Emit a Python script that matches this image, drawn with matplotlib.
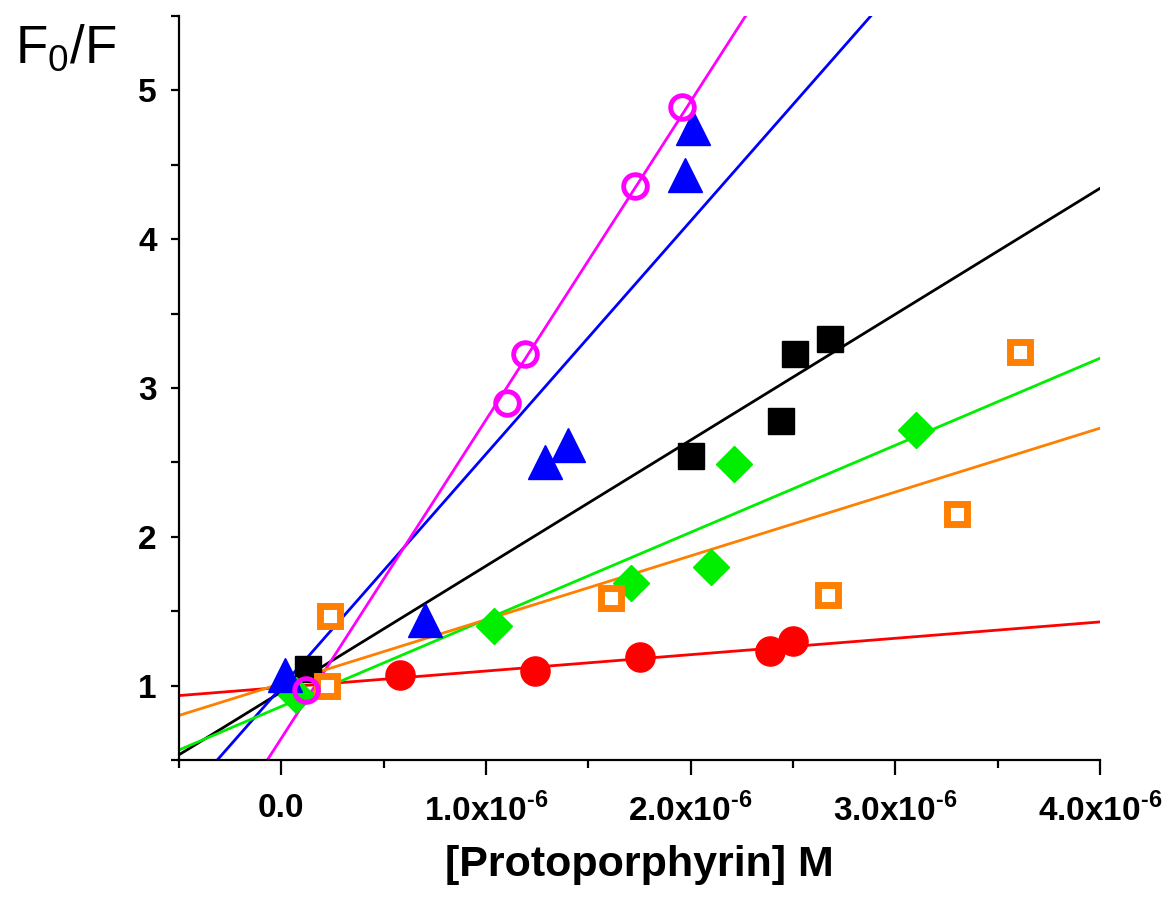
import numpy as np
import matplotlib
matplotlib.use("Agg")
import matplotlib.pyplot as plt
from matplotlib.ticker import FixedLocator

plt.rcParams['font.family'] = ['Liberation Sans', 'DejaVu Sans']
plt.rcParams['mathtext.fontset'] = 'custom'
plt.rcParams['mathtext.rm'] = 'Liberation Sans'
plt.rcParams['mathtext.bf'] = 'Liberation Sans:bold'

# x values in units of 1e-6 M
red_x = [0.58, 1.24, 1.75, 2.39, 2.50]
red_y = [1.07, 1.10, 1.19, 1.23, 1.30]

black_x = [0.13, 2.00, 2.44, 2.51, 2.68]
black_y = [1.11, 2.54, 2.78, 3.23, 3.33]

blue_x = [0.02, 0.70, 1.29, 1.40, 1.97, 2.01]
blue_y = [1.07, 1.44, 2.50, 2.62, 4.43, 4.75]

magenta_x = [0.12, 1.105, 1.19, 1.73, 1.96]
magenta_y = [0.97, 2.90, 3.23, 4.36, 4.89]

green_x = [0.07, 1.04, 1.71, 2.10, 2.21, 3.10]
green_y = [0.94, 1.40, 1.69, 1.80, 2.49, 2.72]

orange_x = [0.225, 0.24, 1.61, 2.67, 3.30, 3.61]
orange_y = [1.00, 1.465, 1.59, 1.61, 2.15, 3.24]

# linear fits: intercept, slope (per 1e-6 M)
red_fit = [0.988, 0.110]
black_fit = [0.958, 0.846]
blue_fit = [0.990, 1.566]
magenta_fit = [0.646, 2.140]
green_fit = [0.860, 0.585]
orange_fit = [1.014, 0.429]

xticks = [0.0, 1.0, 2.0, 3.0, 4.0]
xtick_labels = ['0.0', '1.0x10$^{\\mathbf{\u20106}}$', '2.0x10$^{\\mathbf{\u20106}}$',
                '3.0x10$^{\\mathbf{\u20106}}$', '4.0x10$^{\\mathbf{\u20106}}$']
yticks = [1, 2, 3, 4, 5]

scale = 1e-6

fig = plt.figure(figsize=(11.67, 8.99), dpi=100)
ax = fig.add_axes([179/1167, 139/899, 921/1167, 744/899])

xline = np.array([-0.5, 4.0])

def fit_line(fit, color):
    ax.plot(xline * scale, fit[0] + fit[1] * xline, color=color, lw=2, zorder=2)

fit_line(red_fit, '#ff0000')
fit_line(black_fit, '#000000')
fit_line(blue_fit, '#0000ff')
fit_line(magenta_fit, '#ff00ff')
fit_line(green_fit, '#00ee00')
fit_line(orange_fit, '#ff8000')

sc = np.array
ax.plot(sc(red_x) * scale, red_y, 'o', color='#ff0000', ms=21, mec='#ff0000', zorder=3)
ax.plot(sc(black_x) * scale, black_y, 's', color='#000000', ms=19, zorder=3)
ax.plot(sc(green_x) * scale, green_y, 'D', color='#00ee00', ms=18, zorder=3)
ax.plot(sc(orange_x) * scale, orange_y, 's', mfc='white', mec='#ff8000', mew=5, ms=14, zorder=3)
ax.plot(sc(blue_x) * scale, blue_y, '^', color='#0000ff', ms=24, zorder=3)
ax.plot(sc(magenta_x) * scale, magenta_y, 'o', mfc='none', mec='#ff00ff', mew=3.5, ms=17, zorder=4)

ax.set_xlim(-0.5e-6, 4.0e-6)
ax.set_ylim(0.5, 5.5)

for s in ['top', 'right']:
    ax.spines[s].set_visible(False)
for s in ['left', 'bottom']:
    ax.spines[s].set_linewidth(1.6)

ax.xaxis.set_major_locator(FixedLocator([v * scale for v in xticks]))
ax.set_xticklabels(xtick_labels)
ax.xaxis.set_minor_locator(FixedLocator([v * scale for v in [-0.5, 0.5, 1.5, 2.5, 3.5]]))
ax.yaxis.set_major_locator(FixedLocator(yticks))
ax.yaxis.set_minor_locator(FixedLocator([0.5, 1.5, 2.5, 3.5, 4.5, 5.5]))

ax.tick_params(axis='x', which='major', direction='out', length=11, width=1.6, pad=13)
ax.tick_params(axis='x', which='minor', direction='out', length=6, width=1.6)
ax.tick_params(axis='y', which='both', direction='out', length=6, width=1.6, pad=10)
for lab in ax.get_xticklabels() + ax.get_yticklabels():
    lab.set_fontsize(24)
    lab.set_fontweight('bold')

ax.set_xlabel('[Protoporphyrin] M', fontsize=31, fontweight='bold', labelpad=12)
fig.text(15/1167, 1 - 63/899, 'F$_{\\mathrm{0}}$/F', fontsize=38, ha='left', va='baseline')

fig.savefig('out.png', dpi=100)
